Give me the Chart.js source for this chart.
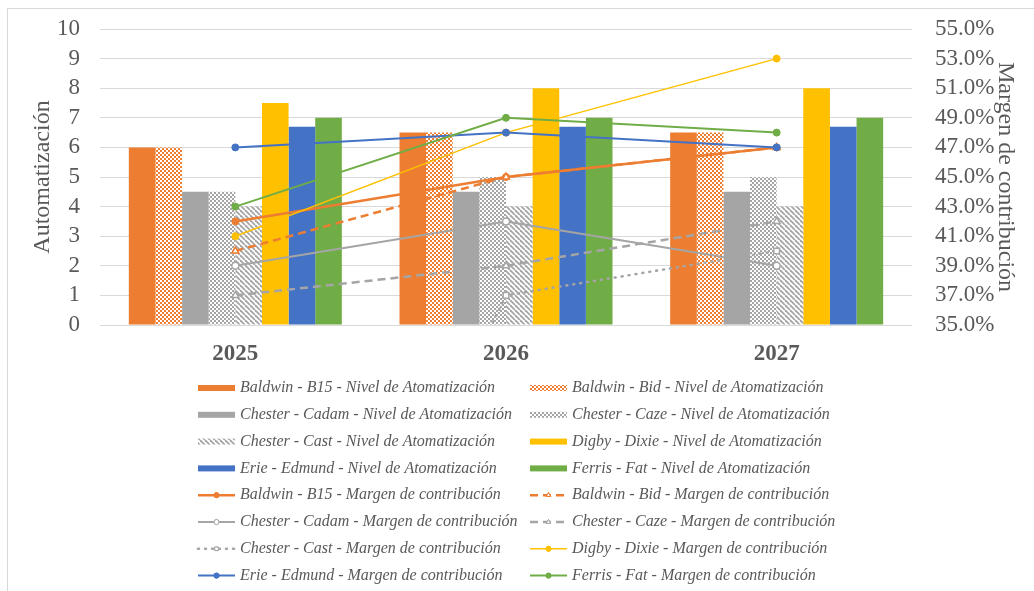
<!DOCTYPE html>
<html lang="es">
<head>
<meta charset="utf-8">
<title>Automatización y margen de contribución</title>
<script src="https://cdn.jsdelivr.net/npm/chart.js@4.4.1/dist/chart.umd.min.js"></script>
<style>
  html, body { margin: 0; padding: 0; background: #fff; }
  #chart { display: block; }
</style>
</head>
<body>
<canvas id="chart" width="1034" height="591"></canvas>
<script>
// Datos
const years = ['2025', '2026', '2027'];
const productos = ['Baldwin - B15', 'Baldwin - Bid', 'Chester - Cadam', 'Chester - Caze',
                   'Chester - Cast', 'Digby - Dixie', 'Erie - Edmund', 'Ferris - Fat'];

// Nivel de automatización (eje izquierdo)
const b15Nivel    = [6, 6.5, 6.5];
const bidNivel    = [6, 6.5, 6.5];
const cadamNivel  = [4.5, 4.5, 4.5];
const cazeNivel   = [4.5, 5, 5];
const castNivel   = [4, 4, 4];
const dixieNivel  = [7.5, 8, 8];
const edmundNivel = [6.7, 6.7, 6.7];
const fatNivel    = [7, 7, 7];

// Margen de contribución en % (eje derecho)
const b15Margen    = [42, 45, 47];
const bidMargen    = [40, 45, 47];
const cadamMargen  = [39, 42, 39];
const cazeMargen   = [37, 39, 42];
const castMargen   = [0, 37, 40];
const dixieMargen  = [41, 48, 53];
const edmundMargen = [47, 48, 47];
const fatMargen    = [43, 49, 48];

const ORANGE = '#ED7D31';
const GRAY = '#A5A5A5';
const YELLOW = '#FFC000';
const BLUE = '#4472C4';
const GREEN = '#70AD47';
const TEXT = '#595959';
const SERIF = '"Liberation Serif", "Times New Roman", serif';

// Tramas para las barras
function makePattern(size, draw) {
    const c = document.createElement('canvas');
    c.width = size;
    c.height = size;
    const g = c.getContext('2d');
    draw(g, size);
    return g.createPattern(c, 'repeat');
}

function checker(color) {
    return makePattern(4, (g, s) => {
        g.fillStyle = color;
        g.fillRect(0, 0, s, s);
        g.fillStyle = '#fff';
        g.fillRect(0, 0, 2, 2);
        g.fillRect(2, 2, 2, 2);
    });
}

function diagonal(color) {
    return makePattern(5, (g, s) => {
        g.fillStyle = '#fff';
        g.fillRect(0, 0, s, s);
        g.strokeStyle = color;
        g.lineWidth = 1.8;
        for (let k = -s; k <= s; k += s) {
            g.beginPath();
            g.moveTo(k, 0);
            g.lineTo(k + s, s);
            g.stroke();
        }
    });
}

const barFills = [ORANGE, checker(ORANGE), GRAY, checker(GRAY), diagonal(GRAY), YELLOW, BLUE, GREEN];
const barData = [b15Nivel, bidNivel, cadamNivel, cazeNivel, castNivel, dixieNivel, edmundNivel, fatNivel];

// Estilos de las líneas: color, grosor, guiones, marcador, relleno del marcador
const lineData = [b15Margen, bidMargen, cadamMargen, cazeMargen, castMargen, dixieMargen, edmundMargen, fatMargen];
const lineStyles = [
    { color: ORANGE, width: 2.5, dash: [],     point: 'circle',   fill: ORANGE },
    { color: ORANGE, width: 2.5, dash: [8, 5], point: 'triangle', fill: '#fff' },
    { color: GRAY,   width: 2,   dash: [],     point: 'circle',   fill: '#fff' },
    { color: GRAY,   width: 2.5, dash: [8, 5], point: 'triangle', fill: '#fff' },
    { color: GRAY,   width: 2.5, dash: [1, 6], point: 'rect',     fill: '#fff' },
    { color: YELLOW, width: 1.5, dash: [],     point: 'circle',   fill: YELLOW },
    { color: BLUE,   width: 2,   dash: [],     point: 'circle',   fill: BLUE },
    { color: GREEN,  width: 2,   dash: [],     point: 'circle',   fill: GREEN }
];

const datasets = [];
barData.forEach((values, i) => {
    datasets.push({
        type: 'bar',
        label: productos[i] + ' - Nivel de Atomatización',
        data: values,
        backgroundColor: barFills[i],
        borderWidth: 0,
        yAxisID: 'y',
        order: 100,
        barPercentage: 1,
        categoryPercentage: 0.787
    });
});
lineData.forEach((values, i) => {
    const st = lineStyles[i];
    datasets.push({
        type: 'line',
        label: productos[i] + ' - Margen de contribución',
        data: values,
        borderColor: st.color,
        borderWidth: st.width,
        borderDash: st.dash,
        borderCapStyle: st.dash.length && st.dash[0] < 2 ? 'round' : 'butt',
        pointStyle: st.point,
        pointRadius: st.point === 'circle' ? 3.5 : 4,
        pointBackgroundColor: st.fill,
        pointBorderColor: st.color,
        pointBorderWidth: st.fill === '#fff' ? 1.5 : 1,
        tension: 0,
        yAxisID: 'y1',
        // las últimas series quedan por encima
        order: 16 - i
    });
});

// Marco exterior gris
const framePlugin = {
    id: 'frame',
    beforeDraw(chart) {
        const ctx = chart.ctx;
        ctx.save();
        ctx.fillStyle = '#fff';
        ctx.fillRect(0, 0, chart.width, chart.height);
        ctx.strokeStyle = '#D9D9D9';
        ctx.lineWidth = 1;
        ctx.beginPath();
        ctx.moveTo(7.5, chart.height);
        ctx.lineTo(7.5, 8.5);
        ctx.lineTo(chart.width, 8.5);
        ctx.stroke();
        ctx.restore();
    }
};

// Leyenda en dos columnas
const legendCols = [198, 530];
const legendTop = 388;
const legendRow = 26.8;
const swatchW = 37;

function drawMarker(ctx, st, cx, cy) {
    ctx.setLineDash([]);
    ctx.fillStyle = st.fill;
    ctx.strokeStyle = st.color;
    ctx.lineWidth = 1;
    Chart.helpers.drawPoint(ctx, { pointStyle: st.point, radius: 2.5, borderWidth: 1 }, cx, cy);
    ctx.fill();
    ctx.stroke();
}

const legendPlugin = {
    id: 'columnLegend',
    afterDraw(chart) {
        const ctx = chart.ctx;
        ctx.save();
        chart.data.datasets.forEach((ds, i) => {
            const x = legendCols[i % 2];
            const y = legendTop + Math.floor(i / 2) * legendRow;
            if (ds.type === 'line') {
                const st = lineStyles[i - barData.length];
                ctx.strokeStyle = st.color;
                ctx.lineWidth = st.width;
                ctx.setLineDash(st.dash);
                ctx.lineCap = st.dash.length && st.dash[0] < 2 ? 'round' : 'butt';
                ctx.beginPath();
                ctx.moveTo(x, y);
                ctx.lineTo(x + swatchW, y);
                ctx.stroke();
                ctx.lineCap = 'butt';
                drawMarker(ctx, st, x + swatchW / 2, y);
            } else {
                ctx.fillStyle = ds.backgroundColor;
                ctx.fillRect(x, y - 3, swatchW, 6);
            }
            ctx.setLineDash([]);
            ctx.fillStyle = TEXT;
            ctx.font = 'italic 16px ' + SERIF;
            ctx.textBaseline = 'middle';
            ctx.textAlign = 'left';
            ctx.fillText(ds.label, x + swatchW + 5, y);
        });
        ctx.restore();
    }
};

const tickFont = { family: SERIF, size: 23 };
const titleFont = { family: SERIF, size: 24 };

// ancho fijo de los ejes verticales, sin margen extra arriba/abajo
function fixWidth(width) {
    return (scale) => {
        scale.width = width;
        scale.paddingTop = 0;
        scale.paddingBottom = 0;
    };
}

new Chart(document.getElementById('chart'), {
    data: {
        labels: years,
        datasets: datasets
    },
    options: {
        responsive: false,
        animation: false,
        layout: { padding: { left: 24, right: 10, top: 29, bottom: 0 } },
        plugins: {
            legend: { display: false },
            tooltip: { enabled: false }
        },
        scales: {
            x: {
                grid: { display: false },
                border: { display: false },
                ticks: {
                    color: TEXT,
                    padding: 7,
                    font: { family: SERIF, size: 23, weight: 'bold' }
                },
                afterFit: (scale) => { scale.height = 266; }
            },
            y: {
                position: 'left',
                min: 0,
                max: 10,
                ticks: { stepSize: 1, autoSkip: false, color: TEXT, padding: 20, font: tickFont },
                grid: { color: '#D9D9D9', drawTicks: false },
                border: { display: false },
                title: { display: true, text: 'Automatización', color: TEXT, font: titleFont },
                afterFit: fixWidth(76)
            },
            y1: {
                position: 'right',
                min: 35,
                max: 55,
                ticks: {
                    stepSize: 2,
                    autoSkip: false,
                    color: TEXT,
                    padding: 23,
                    font: tickFont,
                    callback: (value) => value.toFixed(1) + '%'
                },
                grid: { display: false, drawTicks: false },
                border: { display: false },
                title: { display: true, text: 'Margen de contribución', color: TEXT, font: titleFont },
                afterFit: fixWidth(112)
            }
        }
    },
    plugins: [framePlugin, legendPlugin]
});
</script>
</body>
</html>
